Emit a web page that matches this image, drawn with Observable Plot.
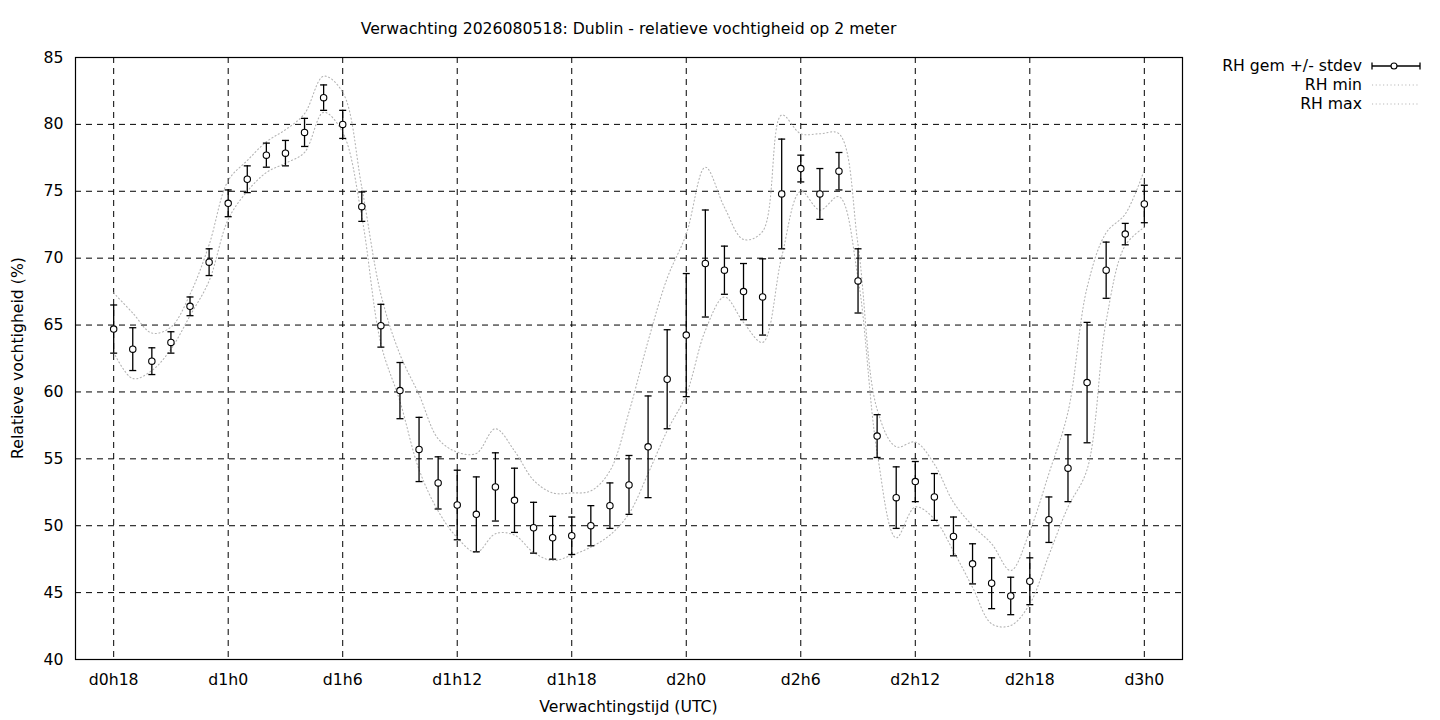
<!DOCTYPE html>
<html><head><meta charset="utf-8">
<script src="https://cdn.jsdelivr.net/npm/d3@7"></script>
<script src="https://cdn.jsdelivr.net/npm/@observablehq/plot@0.6"></script>
<style>
body{margin:0;background:#fff;}
svg text{font-family:"DejaVu Sans",sans-serif;}
</style>
</head><body><div id="chart"></div>
<script>
const hours = [18,19,20,21,22,23,24,25,26,27,28,29,30,31,32,33,34,35,36,37,38,39,40,41,42,43,44,45,46,47,48,49,50,51,52,53,54,55,56,57,58,59,60,61,62,63,64,65,66,67,68,69,70,71,72];
const rhMean = [64.7,63.2,62.3,63.7,66.4,69.7,74.1,75.9,77.7,77.85,79.4,82.0,80.0,73.85,64.95,60.1,55.7,53.2,51.55,50.85,52.9,51.9,49.85,49.1,49.25,50.0,51.5,53.05,55.9,60.95,64.25,69.6,69.1,67.5,67.1,74.8,76.7,74.8,76.5,68.3,56.7,52.1,53.3,52.15,49.2,47.15,45.7,44.75,45.85,50.45,54.3,60.7,69.1,71.8,74.05];
const rhStdev = [1.8,1.6,1.0,0.8,0.7,1.0,1.0,1.0,0.9,0.95,1.05,0.95,1.05,1.1,1.6,2.1,2.4,1.95,2.6,2.8,2.55,2.4,1.9,1.6,1.4,1.5,1.7,2.2,3.8,3.7,4.6,4.0,1.8,2.1,2.85,4.1,1.0,1.9,1.4,2.4,1.6,2.3,1.5,1.75,1.45,1.5,1.9,1.4,1.75,1.7,2.5,4.5,2.1,0.8,1.4];
const rhMin = [62.97,61.0,61.6,63.2,65.7,68.3,72.9,75.0,76.4,77.1,77.9,80.9,79.4,73.1,63.6,59.3,54.2,51.1,49.1,48.0,49.4,49.3,48.0,47.4,47.8,48.4,49.3,50.9,53.9,57.1,59.8,64.6,67.1,65.2,63.7,70.1,75.0,73.6,74.6,68.5,55.5,49.1,51.4,50.5,48.1,45.4,42.67,42.54,44.16,47.8,51.4,54.2,65.3,70.95,72.3];
const rhMax = [67.4,65.9,64.4,64.85,67.3,71.0,75.8,77.3,78.7,79.6,80.8,83.6,82.4,75.3,67.3,62.8,59.8,56.5,55.5,55.4,57.25,55.6,53.4,52.45,52.45,52.6,54.1,58.5,63.8,68.5,71.8,76.8,73.8,71.4,72.0,80.7,79.3,79.3,79.3,71.0,58.7,55.9,56.25,54.6,51.75,50.0,48.65,46.65,49.6,53.9,58.5,67.8,71.9,73.3,76.6];
const xTickHours = [18,24,30,36,42,48,54,60,66,72];
const xTickLabels = ["d0h18","d1h0","d1h6","d1h12","d1h18","d2h0","d2h6","d2h12","d2h18","d3h0"];
const yTicks = [40,45,50,55,60,65,70,75,80,85];
const xDomain = [16,74];
const yDomain = [40,85];
const titleText = "Verwachting 2026080518: Dublin - relatieve vochtigheid op 2 meter";
const xLabelText = "Verwachtingstijd (UTC)";
const yLabelText = "Relatieve vochtigheid (%)";
const legendLabels = ["RH gem +/- stdev","RH min","RH max"];

const data = hours.map((h,i)=>({h, mean:rhMean[i], lo:rhMean[i]-rhStdev[i], hi:rhMean[i]+rhStdev[i], min:rhMin[i], max:rhMax[i]}));

const capSymbol = {draw(ctx){ ctx.moveTo(-3.5,0); ctx.lineTo(3.5,0); }};
const dotColor = "#b4b4b4";
const dotted = {stroke:dotColor, strokeWidth:1.1, strokeDasharray:"1.1,2.6", curve:"catmull-rom"};
const FS = 15.7;

const W=1440, H=720, mL=75, mR=258, mT=57, mB=61;
const plot = Plot.plot({
  width:W, height:H, marginLeft:mL, marginRight:mR, marginTop:mT, marginBottom:mB,
  style:{fontFamily:"DejaVu Sans", fontSize:FS+"px", background:"white", color:"black"},
  x:{domain:xDomain},
  y:{domain:yDomain},
  marks:[
    Plot.gridX(xTickHours,{stroke:"black", strokeOpacity:1, strokeWidth:1, strokeDasharray:"6,5"}),
    Plot.gridY(yTicks,{stroke:"black", strokeOpacity:1, strokeWidth:1, strokeDasharray:"6,5"}),
    Plot.axisX(xTickHours,{tickSize:0, tickPadding:14, tickFormat:d=>xTickLabels[xTickHours.indexOf(d)], label:null, fontSize:FS}),
    Plot.axisY(yTicks,{tickSize:0, tickPadding:12, label:null, fontSize:FS}),
    Plot.line(data,{x:"h", y:"min", ...dotted}),
    Plot.line(data,{x:"h", y:"max", ...dotted}),
    Plot.ruleX(data,{x:"h", y1:"lo", y2:"hi", stroke:"black", strokeWidth:1.3}),
    Plot.dot(data,{x:"h", y:"hi", symbol:capSymbol, r:3, stroke:"black", strokeWidth:1.3, fill:"none"}),
    Plot.dot(data,{x:"h", y:"lo", symbol:capSymbol, r:3, stroke:"black", strokeWidth:1.3, fill:"none"}),
    Plot.dot(data,{x:"h", y:"mean", r:3.2, fill:"white", stroke:"black", strokeWidth:1.1}),
    Plot.frame({stroke:"black", strokeWidth:1.2})
  ]
});
document.getElementById("chart").appendChild(plot);

const svg = d3.select(plot);
function txt(x,y,s,anchor,rot){
  const t = svg.append("text").attr("x",x).attr("y",y).attr("dy","0.35em").attr("text-anchor",anchor)
    .attr("font-family","DejaVu Sans").attr("font-size",FS+"px").attr("fill","black").text(s);
  if (rot) t.attr("transform",`rotate(-90,${x},${y})`);
  return t;
}
const cx = mL + (W-mL-mR)/2;
txt(cx, 29, titleText, "middle");
txt(cx, 707, xLabelText, "middle");
txt(18, mT+(H-mT-mB)/2, yLabelText, "middle", true);

// legend
const lx1=1372, lx2=1420, ly=[66,85,104];
legendLabels.forEach((s,i)=>txt(1362, ly[i], s, "end"));
const g = svg.append("g");
g.append("line").attr("x1",lx1).attr("x2",lx2).attr("y1",ly[0]).attr("y2",ly[0]).attr("stroke","black").attr("stroke-width",1.3);
[lx1,lx2].forEach(x=>g.append("line").attr("x1",x).attr("x2",x).attr("y1",ly[0]-3.5).attr("y2",ly[0]+3.5).attr("stroke","black").attr("stroke-width",1.3));
g.append("circle").attr("cx",(lx1+lx2)/2-2).attr("cy",ly[0]).attr("r",3).attr("fill","white").attr("stroke","black").attr("stroke-width",1.1);
[1,2].forEach(i=>g.append("line").attr("x1",lx1).attr("x2",lx2).attr("y1",ly[i]).attr("y2",ly[i]).attr("stroke",dotColor).attr("stroke-width",1.1).attr("stroke-dasharray","1.1,2.6"));
</script></body></html>
